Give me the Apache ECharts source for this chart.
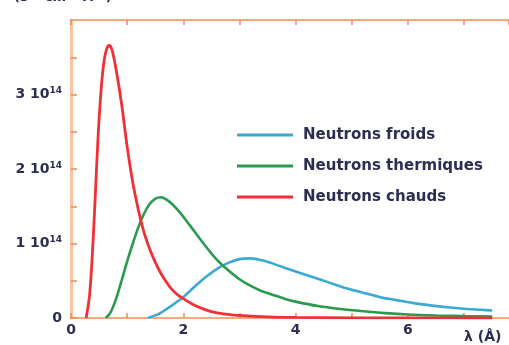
<!DOCTYPE html>
<html>
<head>
<meta charset="utf-8">
<script src="https://cdn.jsdelivr.net/npm/echarts@6/dist/echarts.min.js"></script>
<style>html,body{margin:0;padding:0;background:#fff}#c{width:509px;height:345px}</style>
</head>
<body>
<div id="c"></div>
<script>
// Values in units of 1e14 (n s^-1 cm^-2 Å^-1), wavelength in Å
var seriesNames = ['Neutrons froids', 'Neutrons thermiques', 'Neutrons chauds'];
var coldX = [1.37, 1.5, 1.6, 1.7, 1.8, 1.9, 2.0, 2.2, 2.4, 2.6, 2.8, 3.0, 3.2, 3.4, 3.6, 3.8, 4.0, 4.3, 4.6, 4.9, 5.2, 5.5, 5.8, 6.1, 6.4, 6.7, 7.0, 7.3, 7.5];
var coldY = [0, 0.035, 0.07, 0.12, 0.17, 0.225, 0.28, 0.42, 0.55, 0.66, 0.74, 0.79, 0.8, 0.775, 0.73, 0.675, 0.625, 0.55, 0.475, 0.4, 0.34, 0.28, 0.24, 0.2, 0.17, 0.145, 0.125, 0.11, 0.1];
var thermX = [0.62, 0.7, 0.8, 0.9, 1.0, 1.1, 1.2, 1.3, 1.4, 1.5, 1.6, 1.7, 1.8, 1.9, 2.0, 2.2, 2.4, 2.6, 2.8, 3.0, 3.2, 3.4, 3.6, 3.8, 4.0, 4.4, 4.8, 5.2, 5.6, 6.0, 6.5, 7.0, 7.5];
var thermY = [0, 0.07, 0.25, 0.5, 0.76, 1.0, 1.22, 1.4, 1.53, 1.6, 1.62, 1.59, 1.53, 1.45, 1.36, 1.16, 0.96, 0.78, 0.64, 0.52, 0.43, 0.36, 0.31, 0.26, 0.22, 0.16, 0.12, 0.09, 0.065, 0.047, 0.034, 0.025, 0.02];
var hotX = [0.27, 0.33, 0.38, 0.43, 0.48, 0.53, 0.58, 0.63, 0.68, 0.73, 0.8, 0.9, 1.0, 1.1, 1.2, 1.3, 1.4, 1.5, 1.6, 1.7, 1.8, 1.9, 2.0, 2.2, 2.4, 2.6, 2.8, 3.0, 3.5, 4.0, 5.0, 6.0, 7.5];
var hotY = [0, 0.3, 0.85, 1.6, 2.4, 3.0, 3.4, 3.6, 3.66, 3.6, 3.35, 2.88, 2.3, 1.82, 1.45, 1.15, 0.93, 0.75, 0.6, 0.48, 0.38, 0.31, 0.26, 0.17, 0.11, 0.07, 0.05, 0.035, 0.015, 0.008, 0.003, 0.001, 0];
var yTickLabels = {0: '0', 1: '1 10', 2: '2 10', 3: '3 10'};
var xTickLabels = {0: '0', 2: '2', 4: '4', 6: '6'};
var unitText = '(s\u207B\u00B9 cm\u207B\u00B2 \u00C5\u207B\u00B9)';
var xName = '\u03BB (\u00C5)';

function pairs(xs, ys) { return xs.map(function (x, i) { return [x, ys[i]]; }); }

var colors = ['#3aa9d6', '#2a9a4c', '#f03034'];
var textColor = '#2d2d52';
var font = '"DejaVu Sans", Arial, sans-serif';

var chart = echarts.init(document.getElementById('c'), null, {renderer: 'canvas'});
chart.setOption({
  animation: false,
  backgroundColor: '#fff',
  grid: {left: 71, top: 20, right: 0, bottom: 27, containLabel: false},
  legend: {
    orient: 'vertical', left: 232, top: 121, itemWidth: 56, itemHeight: 3, itemGap: 13,
    icon: 'rect',
    data: seriesNames,
    textStyle: {fontFamily: font, fontSize: 15, fontWeight: 'bold', color: textColor, lineHeight: 18, padding: [0, 0, 0, 5]}
  },
  xAxis: [{
    type: 'value', min: 0, max: 7.8, interval: 1, position: 'bottom',
    axisLine: {lineStyle: {color: '#f7a97c', width: 2}},
    axisTick: {inside: true, length: 5, lineStyle: {color: '#f08a4e', width: 1.5}},
    axisLabel: {
      margin: 5, fontFamily: font, fontSize: 14, fontWeight: 'bold', color: textColor,
      formatter: function (v) { return xTickLabels[v] !== undefined ? xTickLabels[v] : ''; },
      showMaxLabel: false
    },
    splitLine: {show: false}
  }, {
    type: 'value', min: 0, max: 7.8, interval: 1, position: 'top',
    axisLine: {lineStyle: {color: '#f7a97c', width: 2}},
    axisTick: {inside: true, length: 5, lineStyle: {color: '#f08a4e', width: 1.5}},
    axisLabel: {show: false}, splitLine: {show: false}
  }],
  yAxis: {
    type: 'value', min: 0, max: 4, interval: 0.5,
    axisLine: {show: true, lineStyle: {color: '#f9c4a4', width: 3}},
    axisTick: {inside: true, length: 6, lineStyle: {color: '#f08a4e', width: 1.5}},
    axisLabel: {
      margin: 9, showMaxLabel: false,
      formatter: function (v) {
        if (v === 0) return '{a|0}';
        if (yTickLabels[v] !== undefined) return '{a|' + yTickLabels[v] + '}{s|14}';
        return '';
      },
      rich: {
        a: {fontFamily: font, fontSize: 14, fontWeight: 'bold', color: textColor},
        s: {fontFamily: font, fontSize: 9, fontWeight: 'bold', color: textColor, verticalAlign: 'top', padding: [0, 0, 7, 0]}
      }
    },
    splitLine: {show: false}
  },
  series: [
    {name: seriesNames[0], type: 'line', data: pairs(coldX, coldY), smooth: 0.3, symbol: 'none', lineStyle: {color: colors[0], width: 2.6}, itemStyle: {color: colors[0]}},
    {name: seriesNames[1], type: 'line', data: pairs(thermX, thermY), smooth: 0.3, symbol: 'none', lineStyle: {color: colors[1], width: 2.6}, itemStyle: {color: colors[1]}},
    {name: seriesNames[2], type: 'line', data: pairs(hotX, hotY), smooth: 0.3, symbol: 'none', lineStyle: {color: colors[2], width: 2.8}, itemStyle: {color: colors[2]}}
  ],
  graphic: [
    {type: 'text', left: 14, top: -9, style: {text: unitText, fontFamily: font, fontSize: 13, fontWeight: 'bold', fill: textColor}},
    {type: 'text', left: 464, top: 330, style: {text: xName, fontFamily: font, fontSize: 14, fontWeight: 'bold', fill: textColor}}
  ]
});
</script>
</body>
</html>
